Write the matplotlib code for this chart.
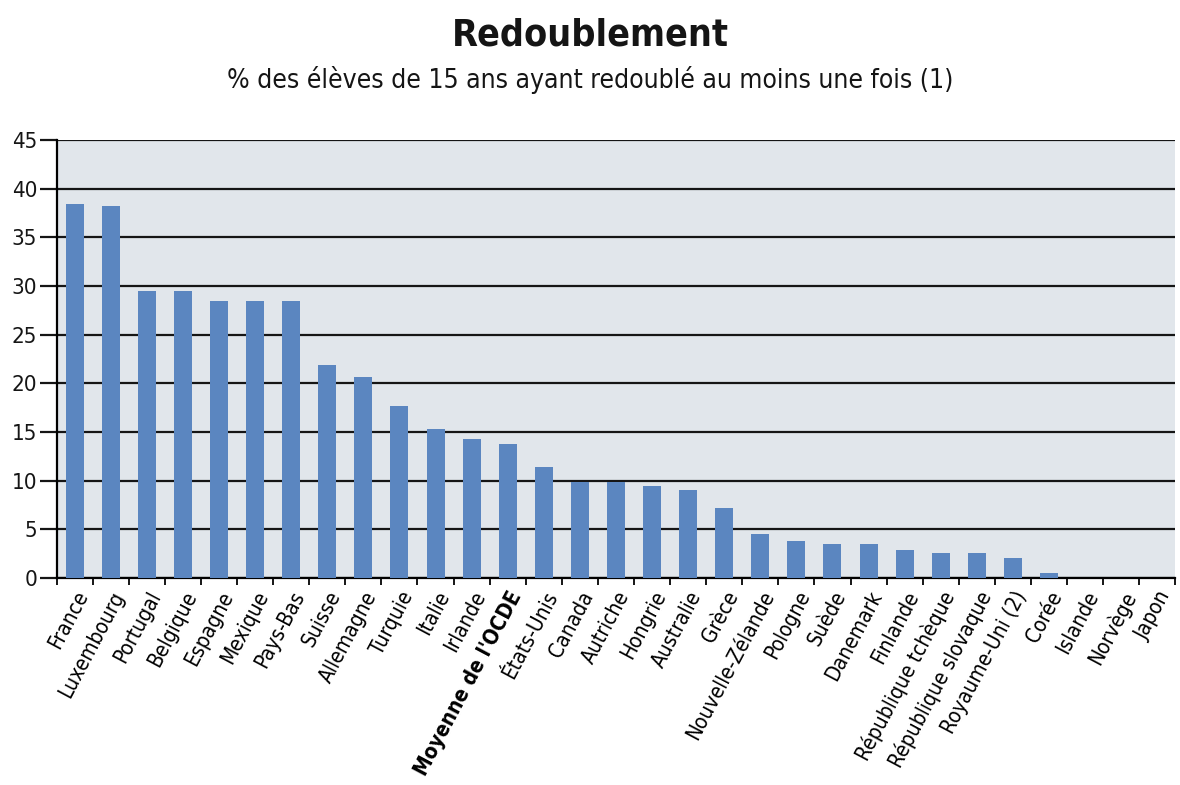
import numpy as np
import matplotlib
matplotlib.use("Agg")
from matplotlib import pyplot as plt
from matplotlib.ticker import FixedLocator

plt.rcParams["font.family"] = ["DejaVu Sans"]
plt.rcParams["font.stretch"] = "condensed"

countries = [
    "France", "Luxembourg", "Portugal", "Belgique", "Espagne", "Mexique",
    "Pays-Bas", "Suisse", "Allemagne", "Turquie", "Italie", "Irlande",
    "Moyenne de l'OCDE", "États-Unis", "Canada", "Autriche", "Hongrie",
    "Australie", "Grèce", "Nouvelle-Zélande", "Pologne", "Suède", "Danemark",
    "Finlande", "République tchèque", "République slovaque", "Royaume-Uni (2)",
    "Corée", "Islande", "Norvège", "Japon",
]
repeaters = [
    38.4, 38.2, 29.5, 29.5, 28.5, 28.5,
    28.5, 21.9, 20.6, 17.7, 15.3, 14.3,
    13.8, 11.4, 9.9, 9.9, 9.5,
    9.0, 7.2, 4.5, 3.8, 3.5, 3.5,
    2.9, 2.6, 2.6, 2.1,
    0.5, 0.0, 0.0, 0.0,
]
yticks = [0, 5, 10, 15, 20, 25, 30, 35, 40, 45]

bar_color = "#5b86c0"
panel_color = "#e1e6eb"

fig = plt.figure(figsize=(11.8, 7.85), dpi=100)
ax = fig.add_axes([0.048, 0.2637, 0.948, 0.558])

x = np.arange(len(countries))
ax.bar(x, repeaters, width=0.5, color=bar_color, zorder=3)

ax.set_facecolor(panel_color)
ax.set_xlim(-0.5, len(countries) - 0.5)
ax.set_ylim(0, 45)

# horizontal rules behind the bars
ax.set_yticks(yticks)
ax.grid(axis="y", color="#151515", linewidth=1.6, zorder=1)
ax.set_axisbelow(True)
ax.tick_params(axis="y", length=12, width=1.6, direction="out",
               labelsize=16, pad=2, colors="#151515")

# category labels at bar centres, tick marks between bars
ax.set_xticks(x)
ax.set_xticklabels(countries, rotation=62, ha="right", va="top",
                   rotation_mode="anchor", fontsize=15)
ax.tick_params(axis="x", which="major", length=0, pad=7)
ax.xaxis.set_minor_locator(FixedLocator(np.arange(-0.5, len(countries), 1.0)))
ax.tick_params(axis="x", which="minor", length=5, width=1.4, direction="out",
               color="#151515")
for lbl in ax.get_xticklabels():
    if lbl.get_text() == "Moyenne de l'OCDE":
        lbl.set_fontweight("bold")

for side in ("top", "right"):
    ax.spines[side].set_visible(False)
ax.spines["left"].set_linewidth(1.6)
ax.spines["bottom"].set_linewidth(1.6)

fig.text(0.5, 0.955, "Redoublement", ha="center", va="center",
         fontsize=27, fontweight="bold", color="#151515")
fig.text(0.5, 0.898, "% des élèves de 15 ans ayant redoublé au moins une fois (1)",
         ha="center", va="center", fontsize=19, color="#151515")

fig.savefig("out.png", dpi=100)
